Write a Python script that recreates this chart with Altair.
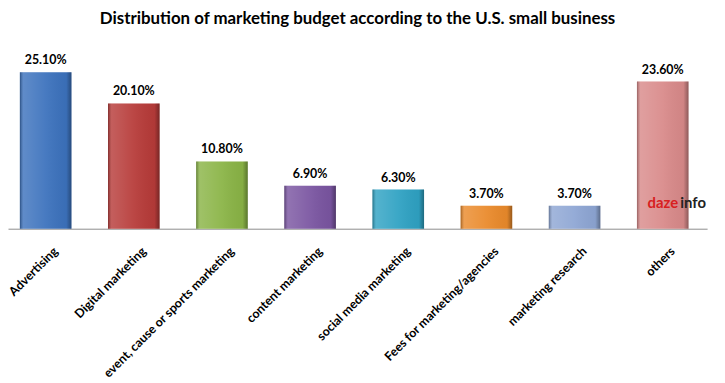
import altair as alt
import pandas as pd

categories = [
    "Advertising",
    "Digital marketing",
    "event, cause or sports marketing",
    "content marketing",
    "social media marketing",
    "Fees for marketing/agencies",
    "marketing research",
    "others",
]
values = [25.1, 20.1, 10.8, 6.9, 6.3, 3.7, 3.7, 23.6]
value_labels = ["25.10%", "20.10%", "10.80%", "6.90%", "6.30%", "3.70%", "3.70%", "23.60%"]
bar_colors = ["#3c72bd", "#b73b39", "#8ab446", "#7a55a1", "#2fa2c3", "#ea8a2b", "#8ea6d4", "#d98a8a"]
title_text = "Distribution of marketing budget according to the U.S. small business"

df = pd.DataFrame({
    "category": categories,
    "value": values,
    "label": value_labels,
    "color": bar_colors,
})

FONT = "Lato"

x_enc = alt.X(
    "category:N",
    sort=categories,
    scale=alt.Scale(paddingInner=0.415, paddingOuter=0.1727, align=0.39),
    axis=alt.Axis(
        title=None,
        labelAngle=-45,
        labelAlign="right",
        labelBaseline="top",
        labelFont=FONT,
        labelFontWeight="bold",
        labelFontSize=12.5,
        labelColor="#000000",
        labelPadding=16,
        labelOffset=6,
        labelLimit=400,
        ticks=False,
        domainColor="#8c8c8c",
        domainWidth=1,
        grid=False,
    ),
)
y_enc = alt.Y("value:Q", scale=alt.Scale(domain=[0, 28]), axis=None)

bars = alt.Chart(df).mark_bar().encode(
    x=x_enc, y=y_enc, color=alt.Color("color:N", scale=None, legend=None)
)

shade = alt.Chart(df).mark_bar(
    fill=alt.LinearGradient(
        gradient="linear",
        x1=0, x2=1, y1=0, y2=0,
        stops=[
            alt.GradientStop(color="rgba(0,0,0,0.30)", offset=0),
            alt.GradientStop(color="rgba(255,255,255,0.18)", offset=0.07),
            alt.GradientStop(color="rgba(255,255,255,0.06)", offset=0.5),
            alt.GradientStop(color="rgba(0,0,0,0.04)", offset=0.9),
            alt.GradientStop(color="rgba(0,0,0,0.35)", offset=1),
        ],
    )
).encode(x=x_enc, y=y_enc)

text = alt.Chart(df).mark_text(
    baseline="bottom", dy=-5, font=FONT, fontWeight="bold", fontSize=12.5, color="#000000"
).encode(x=x_enc, y=y_enc, text="label:N")

wm_df = pd.DataFrame({"a": ["daze"], "b": ["info"]})
wm1 = alt.Chart(wm_df).mark_text(
    align="left", baseline="alphabetic", font=FONT, fontWeight="bold", fontSize=15, color="#d8201f"
).encode(x=alt.value(645), y=alt.value(155), text="a:N")
wm2 = alt.Chart(wm_df).mark_text(
    align="left", baseline="alphabetic", font=FONT, fontWeight="bold", fontSize=15, color="#222222"
).encode(x=alt.value(678), y=alt.value(155), text="b:N")

chart = alt.layer(bars, shade, text, wm1, wm2).properties(
    width=705,
    height=176,
    title=alt.TitleParams(
        text=title_text, font=FONT, fontSize=17, fontWeight="bold", color="#000000",
        anchor="middle", offset=26,
    ),
    padding={"left": 0, "top": 45, "right": 10, "bottom": 150},
    autosize=alt.AutoSizeParams(type="none"),
).configure_view(stroke=None)

chart.save("out.html", embed_options={"renderer": "svg", "actions": False})
